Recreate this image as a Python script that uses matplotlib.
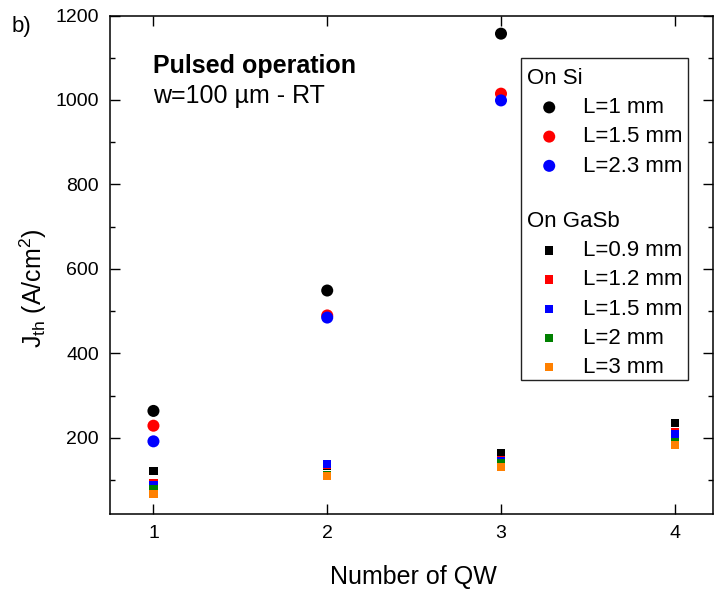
import numpy as np
import matplotlib
matplotlib.use("Agg")
import matplotlib.pyplot as plt
from matplotlib.ticker import MultipleLocator
from matplotlib.patches import Rectangle

plt.rcParams['font.family'] = 'Liberation Sans'
plt.rcParams['mathtext.fontset'] = 'custom'
plt.rcParams['mathtext.rm'] = 'Liberation Sans'
plt.rcParams['mathtext.it'] = 'Liberation Sans:italic'
plt.rcParams['mathtext.bf'] = 'Liberation Sans:bold'

# number of quantum wells
qw_si = [1, 2, 3]
qw_gasb = [1, 2, 3, 4]

# threshold current density (A/cm2), lasers on Si
si_labels = ['L=1 mm', 'L=1.5 mm', 'L=2.3 mm']
si_colors = ['black', '#ff0000', '#0000ff']
si_jth = [
    [264, 549, 1157],
    [229, 490, 1015],
    [192, 485, 999],
]

# lasers on GaSb
gasb_labels = ['L=0.9 mm', 'L=1.2 mm', 'L=1.5 mm', 'L=2 mm', 'L=3 mm']
gasb_colors = ['black', '#ff0000', '#0000ff', '#008000', '#ff8000']
gasb_jth = [
    [122, 135, 163, 236],
    [93, 137, 148, 213],
    [88, 139, 145, 209],
    [78, 112, 140, 190],
    [67, 110, 132, 184],
]

W, H = 715, 590
fig = plt.figure(figsize=(W / 100, H / 100), dpi=100)
ax = fig.add_axes([110 / W, 1 - 514 / H, 603 / W, 498.5 / H])

si_handles = []
for vals, col, lab in zip(si_jth, si_colors, si_labels):
    h = ax.scatter(qw_si, vals, s=75, marker='o', color=col, label=lab,
                   edgecolors='none', zorder=3)
    si_handles.append(h)

gasb_handles = []
for vals, col, lab in zip(gasb_jth, gasb_colors, gasb_labels):
    h = ax.scatter(qw_gasb, vals, s=36, marker='s', color=col, label=lab,
                   edgecolors='none', zorder=3)
    gasb_handles.append(h)

ax.set_xlim(0.75, 4.22)
ax.set_ylim(20, 1200)
ax.set_xticks([1, 2, 3, 4])
ax.yaxis.set_major_locator(MultipleLocator(200))
ax.yaxis.set_minor_locator(MultipleLocator(100))
ax.set_yticks(np.arange(200, 1201, 200))
ax.tick_params(which='both', direction='in', top=True, right=True,
               labelsize=14, width=1.0)
ax.tick_params(which='major', length=7, pad=8)
ax.tick_params(which='minor', length=3.6)
for sp in ax.spines.values():
    sp.set_linewidth(1.1)

fig.text(413 / W, 1 - 577 / H, 'Number of QW', fontsize=18,
         ha='center', va='center')
fig.text(33 / W, 1 - 288 / H, r'J$_{\mathrm{th}}$ (A/cm$^{2}$)', fontsize=18,
         rotation=90, ha='center', va='center')

fig.text(12 / W, 1 - 32 / H, 'b)', fontsize=16, va='baseline')
fig.text(153 / W, 1 - 73 / H, 'Pulsed operation', fontsize=18,
         fontweight='bold', va='baseline')
fig.text(153 / W, 1 - 103 / H, 'w=100 µm - RT', fontsize=18, va='baseline')

# legend: two groups in one frame
leg_kw = dict(loc='upper left', frameon=False, fontsize=16, title_fontsize=16,
              alignment='left', borderpad=0, borderaxespad=0,
              handlelength=2.0, handletextpad=0.5, labelspacing=0.37,
              scatterpoints=1, bbox_transform=fig.transFigure)
fig.legend(si_handles, si_labels, title='On Si',
           bbox_to_anchor=(527 / W, 1 - 68 / H), **leg_kw)
fig.legend(gasb_handles, gasb_labels, title='On GaSb',
           bbox_to_anchor=(527 / W, 1 - 211 / H), **leg_kw)
fig.add_artist(Rectangle((521 / W, 1 - 380 / H), 167 / W, 322 / H,
                         transform=fig.transFigure, fill=False,
                         edgecolor='#222222', linewidth=1.0))

fig.savefig('out.png', dpi=100)
